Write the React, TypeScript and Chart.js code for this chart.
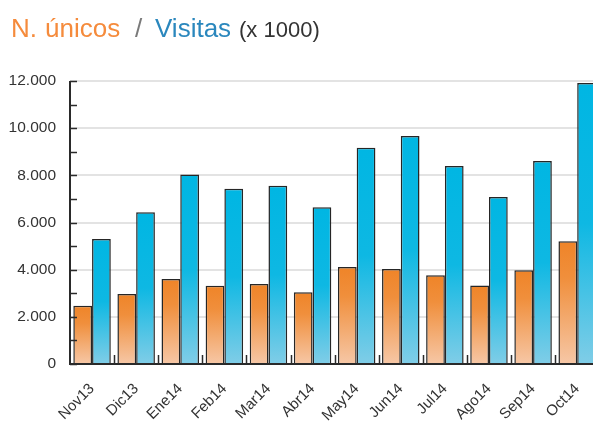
import React, { useEffect, useRef } from "react";
import { Chart, registerables } from "chart.js";

Chart.register(...registerables);

const categories = ["Nov13", "Dic13", "Ene14", "Feb14", "Mar14", "Abr14", "May14", "Jun14", "Jul14", "Ago14", "Sep14", "Oct14"];
const unicos = [2470, 2970, 3600, 3320, 3390, 3040, 4110, 4030, 3760, 3330, 3970, 5210];
const visitas = [5300, 6430, 8040, 7430, 7560, 6650, 9170, 9670, 8400, 7080, 8610, 11920];
const yTickValues = [0, 2000, 4000, 6000, 8000, 10000, 12000];
const yTickLabels = ["0", "2.000", "4.000", "6.000", "8.000", "10.000", "12.000"];
const yMinorStep = 1000;

const orangeStops: [number, string][] = [
  [0, "#EF8428"],
  [0.3, "#F08F3C"],
  [1, "#F6C7A6"],
];
const blueStops: [number, string][] = [
  [0, "#00B6E3"],
  [0.5, "#0EB8E3"],
  [1, "#80CDE7"],
];

const makeGrad = (stops: [number, string][]) => (ctx: any) => {
  const chart = ctx.chart;
  const { chartArea, scales } = chart;
  if (!chartArea || ctx.type !== "data" || !scales.y) return stops[0][1];
  const v = typeof ctx.raw === "number" ? ctx.raw : 0;
  const top = scales.y.getPixelForValue(v);
  const bottom = scales.y.getPixelForValue(0);
  if (!isFinite(top) || !isFinite(bottom) || bottom - top < 1) return stops[0][1];
  const g = chart.ctx.createLinearGradient(0, top, 0, bottom);
  stops.forEach(([o, c]) => g.addColorStop(o, c));
  return g;
};

const axesPlugin = {
  id: "axesTicks",
  afterDatasetsDraw(chart: any) {
    const { ctx, chartArea, scales } = chart;
    const { left, right, top, bottom } = chartArea;
    ctx.save();
    ctx.strokeStyle = "#2a2a2a";
    ctx.lineWidth = 1.5;
    const yMax = scales.y.max;
    for (let v = 0; v <= yMax; v += yMinorStep) {
      const y = Math.round(scales.y.getPixelForValue(v)) + 0.5;
      ctx.beginPath();
      ctx.moveTo(left, y);
      ctx.lineTo(left + 7, y);
      ctx.stroke();
    }
    for (let i = 1; i < categories.length; i++) {
      const x = Math.round((scales.x.getPixelForValue(i - 1) + scales.x.getPixelForValue(i)) / 2) + 0.5;
      ctx.beginPath();
      ctx.moveTo(x, bottom);
      ctx.lineTo(x, bottom - 9);
      ctx.stroke();
    }
    ctx.lineWidth = 2;
    ctx.beginPath();
    ctx.moveTo(left, top);
    ctx.lineTo(left, bottom);
    ctx.lineTo(right + 10, bottom);
    ctx.stroke();
    ctx.restore();
  },
};

const CANVAS_W = 606;
const CANVAS_H = 423;

function BarChart() {
  const ref = useRef<HTMLCanvasElement>(null);
  useEffect(() => {
    if (!ref.current) return;
    const chart = new Chart(ref.current, {
      type: "bar",
      data: {
        labels: categories,
        datasets: [
          {
            label: "N. únicos",
            data: unicos,
            backgroundColor: makeGrad(orangeStops) as any,
            borderColor: "#262626",
            borderWidth: 1.5,
            categoryPercentage: 0.85,
            barPercentage: 1,
          },
          {
            label: "Visitas",
            data: visitas,
            backgroundColor: makeGrad(blueStops) as any,
            borderColor: "#262626",
            borderWidth: 1.5,
            categoryPercentage: 0.85,
            barPercentage: 1,
          },
        ],
      },
      options: {
        animation: false,
        responsive: false,
        devicePixelRatio: 1,
        layout: { padding: { top: 81, right: 2, left: 0, bottom: 0 } },
        plugins: {
          legend: { display: false },
          title: { display: false },
          tooltip: { enabled: false },
        },
        scales: {
          x: {
            grid: { display: false, drawTicks: false },
            border: { display: false },
            ticks: {
              autoSkip: false,
              minRotation: 45,
              maxRotation: 45,
              padding: 16,
              color: "#333",
              font: { family: "'Liberation Sans', Arial, sans-serif", size: 15 },
            },
            afterFit: (s: any) => {
              s.height = 59;
            },
          },
          y: {
            min: 0,
            max: 12000,
            afterBuildTicks: (s: any) => {
              s.ticks = yTickValues.map((v) => ({ value: v }));
            },
            grid: { color: "#e3e3e3", lineWidth: 2, drawTicks: false },
            border: { display: false },
            ticks: {
              padding: 14,
              color: "#333",
              font: { family: "'Liberation Sans', Arial, sans-serif", size: 15.5 },
              callback: (v: any) => {
                const i = yTickValues.indexOf(Number(v));
                return i >= 0 ? yTickLabels[i] : "";
              },
            },
            afterFit: (s: any) => {
              s.width = 70;
            },
          },
        },
      },
      plugins: [axesPlugin],
    });
    return () => chart.destroy();
  }, []);
  return (
    <canvas
      ref={ref}
      width={CANVAS_W}
      height={CANVAS_H}
      style={{ display: "block", width: CANVAS_W, height: CANVAS_H }}
    />
  );
}

const titleFont = "'Liberation Sans', Arial, Helvetica, sans-serif";

export default function App() {
  const span = (text: string, left: number, top: number, size: number, color: string) => (
    <span
      style={{
        position: "absolute",
        left,
        top,
        fontFamily: titleFont,
        fontSize: size,
        lineHeight: `${size}px`,
        color,
        whiteSpace: "pre",
      }}
    >
      {text}
    </span>
  );
  return (
    <div
      style={{
        position: "fixed",
        left: 0,
        top: 0,
        width: 593,
        height: 423,
        overflow: "hidden",
        background: "#fff",
      }}
    >
      <div style={{ position: "absolute", left: 0, top: 0, width: CANVAS_W, height: CANVAS_H }}>
        <BarChart />
      </div>
      {span("N.", 11, 15, 26, "#F58B3C")}
      {span("únicos", 45, 15, 26, "#F58B3C")}
      {span("/", 135, 15, 26, "#7a7a7a")}
      {span("Visitas", 155, 15, 26, "#2A87BD")}
      {span("(x 1000)", 239, 18.5, 22, "#333")}
    </div>
  );
}
